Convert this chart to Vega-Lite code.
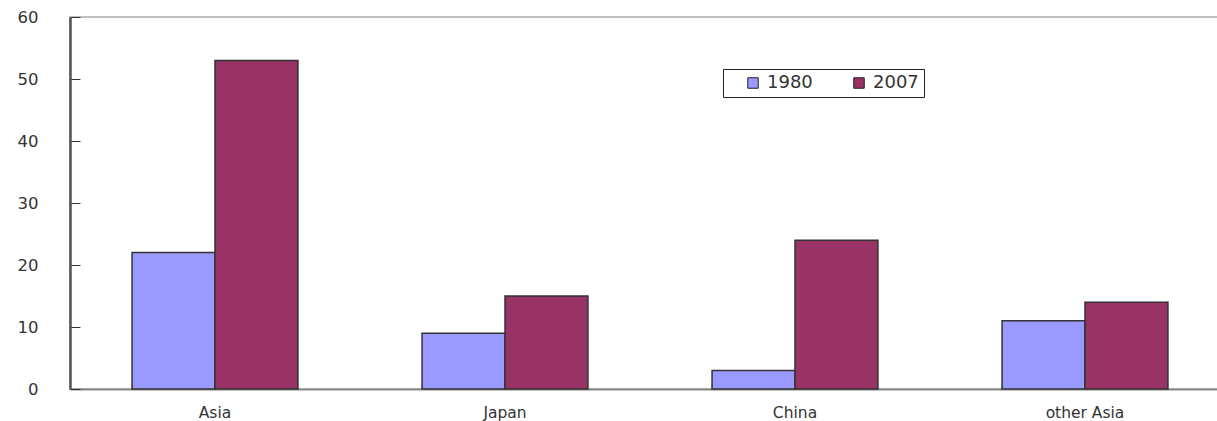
{
  "$schema": "https://vega.github.io/schema/vega-lite/v6.json",
  "width": 1160,
  "height": 372,
  "autosize": {"type": "none"},
  "padding": {"left": 70, "top": 17, "right": 0, "bottom": 32},
  "background": "white",
  "config": {
    "view": {"stroke": "#c0c0c0", "strokeWidth": 2},
    "font": "DejaVu Sans"
  },
  "data": {
    "values": [
      {"region": "Asia", "year": "1980", "value": 22},
      {"region": "Asia", "year": "2007", "value": 53},
      {"region": "Japan", "year": "1980", "value": 9},
      {"region": "Japan", "year": "2007", "value": 15},
      {"region": "China", "year": "1980", "value": 3},
      {"region": "China", "year": "2007", "value": 24},
      {"region": "other Asia", "year": "1980", "value": 11},
      {"region": "other Asia", "year": "2007", "value": 14}
    ]
  },
  "mark": {"type": "bar", "stroke": "#333333", "strokeWidth": 1.5},
  "encoding": {
    "x": {
      "field": "region",
      "type": "nominal",
      "sort": ["Asia", "Japan", "China", "other Asia"],
      "scale": {"paddingInner": 0.428, "paddingOuter": 0.214},
      "axis": {
        "title": null,
        "labelAngle": 0,
        "labelFontSize": 15.5,
        "labelColor": "#333333",
        "labelFont": "DejaVu Sans",
        "domainColor": "#888888",
        "domainWidth": 2,
        "bandPosition": 0,
        "tickColor": "#222222",
        "tickWidth": 1.5,
        "tickSize": -5,
        "labelPadding": 21
      }
    },
    "xOffset": {
      "field": "year",
      "type": "nominal",
      "scale": {"paddingInner": 0, "paddingOuter": 0}
    },
    "y": {
      "field": "value",
      "type": "quantitative",
      "scale": {"domain": [0, 60], "nice": false},
      "axis": {
        "title": null,
        "values": [0, 10, 20, 30, 40, 50, 60],
        "grid": false,
        "labelFontSize": 16.5,
        "labelColor": "#333333",
        "labelFont": "DejaVu Sans",
        "domainColor": "#555555",
        "domainWidth": 2.5,
        "tickColor": "#333333",
        "tickWidth": 1,
        "tickSize": -10,
        "labelPadding": 42
      }
    },
    "color": {
      "field": "year",
      "type": "nominal",
      "scale": {"domain": ["1980", "2007"], "range": ["#9999FF", "#993366"]},
      "legend": {
        "title": null,
        "orient": "none",
        "legendX": 653,
        "legendY": 52,
        "direction": "horizontal",
        "strokeColor": "#222222",
        "fillColor": "white",
        "padding": 5,
        "symbolType": "square",
        "symbolSize": 110,
        "symbolOffset": 16,
        "symbolStrokeColor": "#222222",
        "symbolStrokeWidth": 1,
        "symbolOpacity": 1,
        "labelFontSize": 18,
        "labelColor": "#333333",
        "labelFont": "DejaVu Sans",
        "labelOffset": 5,
        "columnPadding": 21
      }
    }
  }
}
